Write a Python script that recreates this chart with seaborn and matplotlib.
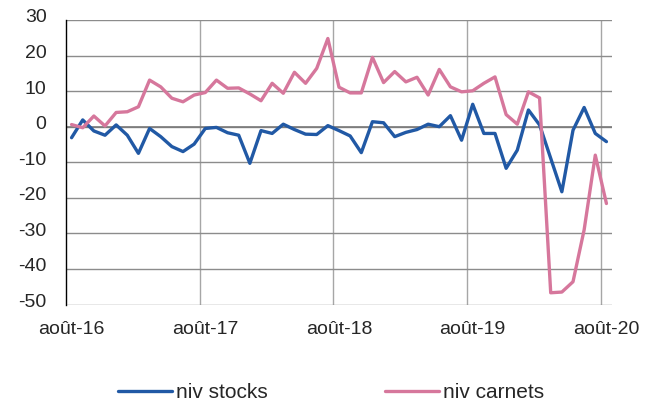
import matplotlib
matplotlib.use("Agg")
import numpy as np
import pandas as pd
import matplotlib.pyplot as plt
import seaborn as sns
from matplotlib.transforms import ScaledTranslation

#%% Données (soldes d'opinion, mensuel août-16 -> août-20)
mois = pd.date_range("2016-08-01", periods=49, freq="MS")
noms_mois = ["janv.", "févr.", "mars", "avr.", "mai", "juin",
             "juil.", "août", "sept.", "oct.", "nov.", "déc."]
etiquettes = [f"{noms_mois[d.month - 1]}-{d.year % 100:02d}" for d in mois]

niv_stocks = [-3.1, 1.9, -1.2, -2.4, 0.5, -2.4, -7.5, -0.5, -2.8, -5.6, -7.0, -4.9, -0.5,
              -0.2, -1.7, -2.4, -10.3, -1.1, -1.9, 0.7, -0.8, -2.1, -2.2, 0.3, -1.1, -2.6,
              -7.3, 1.4, 1.1, -2.8, -1.6, -0.8, 0.7, 0.0, 3.1, -3.8, 6.3, -1.9, -1.9,
              -11.7, -6.6, 4.7, 0.5, -8.9, -18.3, -1.0, 5.4, -1.9, -4.2]
niv_carnets = [0.6, -0.3, 3.0, 0.2, 4.0, 4.2, 5.6, 13.1, 11.2, 8.0, 7.0, 8.9, 9.6,
               13.1, 10.8, 10.9, 9.2, 7.3, 12.2, 9.4, 15.3, 12.2, 16.4, 24.8, 11.1, 9.5,
               9.5, 19.5, 12.4, 15.5, 12.6, 13.9, 8.9, 16.1, 11.2, 9.8, 10.1, 12.2, 14.0,
               3.4, 0.7, 9.8, 8.1, -46.7, -46.5, -43.6, -29.0, -8.0, -21.6]

series = ["niv stocks", "niv carnets"]
couleurs = {"niv stocks": "#2159a5", "niv carnets": "#d6779c"}

df = pd.DataFrame({"pos": np.arange(len(mois)),
                   "niv stocks": niv_stocks,
                   "niv carnets": niv_carnets})
df = df.melt(id_vars="pos", var_name="serie", value_name="solde")

#%% Graphique
sns.set_style("white")
plt.rcParams["font.family"] = ["Liberation Sans", "DejaVu Sans"]
plt.rcParams["axes.unicode_minus"] = False  # tiret simple comme dans Excel

fig = plt.figure(figsize=(6.59, 4.03), dpi=100)
ax = fig.add_axes([66 / 659, 1 - 304.5 / 403, (612 - 66) / 659, (304.5 - 20) / 403])

sns.lineplot(data=df, x="pos", y="solde", hue="serie", hue_order=series,
             palette=couleurs, linewidth=2.4, ax=ax, legend=False)

ax.set_xlim(-0.5, len(mois) - 0.5)
ax.set_ylim(-50, 30)
ax.set_yticks(np.arange(-50, 31, 10))
ax.set_xticks(np.arange(0, len(mois), 12))
ax.set_xticklabels([etiquettes[i] for i in range(0, len(mois), 12)])
ax.set_xticks(np.arange(11.5, len(mois), 12), minor=True)
ax.set_xlabel("")
ax.set_ylabel("")

# quadrillage type Excel
ax.grid(axis="y", which="major", color="#8c8c8c", linewidth=1)
ax.grid(axis="x", which="minor", color="#a6a6a6", linewidth=1)
ax.axhline(0, color="#7a7a7a", linewidth=1.2, zorder=1)
ax.tick_params(axis="both", which="both", length=0, labelsize=14)
ax.tick_params(axis="x", pad=12)
ax.tick_params(axis="y", pad=14)

for cote in ["top", "right", "bottom"]:
    ax.spines[cote].set_visible(False)
ax.spines["left"].set_color("black")
ax.spines["left"].set_linewidth(1)

# les étiquettes de l'axe y sont un peu au-dessus des lignes
decalage = ScaledTranslation(0, 4 / 100, fig.dpi_scale_trans)
for lab in ax.get_yticklabels():
    lab.set_transform(lab.get_transform() + decalage)

fig.legend(handles=ax.lines[:2], labels=series, loc="center left",
           bbox_to_anchor=(118 / 659, 1 - 393 / 403), ncol=2, frameon=False,
           fontsize=15, handlelength=2.6, handletextpad=0.2, columnspacing=5.6,
           borderpad=0, borderaxespad=0)

fig.savefig("out.png", dpi=100)
